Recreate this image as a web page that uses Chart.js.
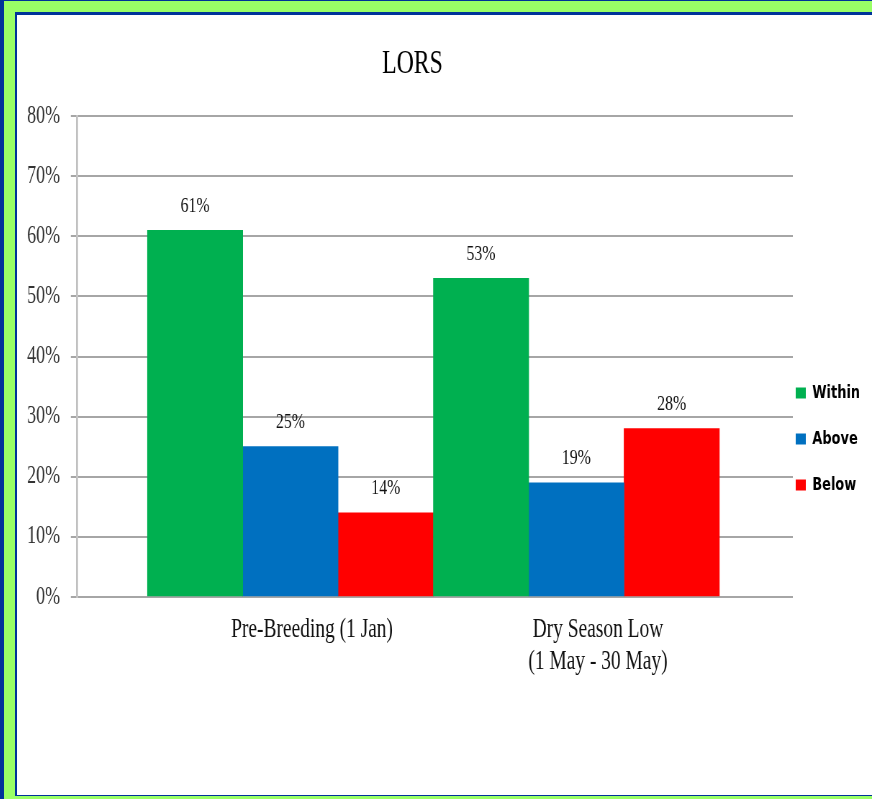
<!DOCTYPE html>
<html><head><meta charset="utf-8">
<script src="https://cdn.jsdelivr.net/npm/chart.js@4.4.1/dist/chart.umd.min.js"></script>
<style>
html,body{margin:0;padding:0;background:#fff;overflow:hidden;}
body{width:100%;height:799px;}
.s{position:absolute;}
.bl{background:#003399;}
.gr{background:#99ff66;}
#c{position:absolute;left:17px;top:15px;}
</style></head>
<body>
<div class="s bl" style="left:0;top:0;width:2000px;height:1px"></div>
<div class="s bl" style="left:0;top:0;width:4px;height:799px"></div>
<div class="s gr" style="left:4px;top:1px;width:2000px;height:11px"></div>
<div class="s gr" style="left:4px;top:1px;width:11px;height:798px"></div>
<div class="s gr" style="left:4px;top:796px;width:2000px;height:3px"></div>
<div class="s bl" style="left:15px;top:12px;width:2000px;height:3px"></div>
<div class="s bl" style="left:15px;top:12px;width:2px;height:784px"></div>
<div class="s bl" style="left:15px;top:795px;width:2000px;height:1px"></div>
<canvas id="c" width="1188" height="780" style="width:855px;height:780px"></canvas>
<script>
const chartTitle = 'LORS';
const categories = [['Pre-Breeding (1 Jan)'], ['Dry Season Low', '(1 May - 30 May)']];
const seriesNames = ['Within', 'Above', 'Below'];
const withinValues = [0.61, 0.53];
const aboveValues = [0.25, 0.19];
const belowValues = [0.14, 0.28];
const seriesColors = ['#00b050', '#0070c0', '#ff0000'];
const yTickLabels = ['0%', '10%', '20%', '30%', '40%', '50%', '60%', '70%', '80%'];

const serif = "'Liberation Serif', 'Times New Roman', serif";
const toPoints = vals => vals.map((v, i) => ({x: i + 1, y: v}));
const seriesValues = [withinValues, aboveValues, belowValues];

const datasets = seriesNames.map((name, k) => ({
  label: name,
  data: toPoints(seriesValues[k]),
  backgroundColor: seriesColors[k],
  borderWidth: 0,
  categoryPercentage: 1,
  barPercentage: 1
}));

const valueLabels = {
  id: 'valueLabels',
  afterDatasetsDraw(chart) {
    const ctx = chart.ctx;
    ctx.save();
    ctx.font = '22px ' + serif;
    ctx.fillStyle = '#111';
    ctx.textAlign = 'center';
    ctx.textBaseline = 'alphabetic';
    chart.data.datasets.forEach((ds, di) => {
      const meta = chart.getDatasetMeta(di);
      meta.data.forEach((bar, i) => {
        ctx.fillText(Math.round(ds.data[i].y * 100) + '%', bar.x, bar.y - 18.5);
      });
    });
    ctx.restore();
  }
};

const titleDraw = {
  id: 'titleDraw',
  afterDraw(chart) {
    const ctx = chart.ctx;
    const a = chart.chartArea;
    ctx.save();
    ctx.font = '33px ' + serif;
    ctx.fillStyle = '#000';
    ctx.textAlign = 'center';
    ctx.textBaseline = 'alphabetic';
    ctx.fillText(chartTitle, a.left + (a.right - a.left) * 0.4686, a.top - 42.7);
    ctx.restore();
  }
};

const chart = new Chart(document.getElementById('c'), {
  type: 'bar',
  data: {datasets},
  plugins: [valueLabels, titleDraw],
  options: {
    responsive: false,
    animation: false,
    devicePixelRatio: 1,
    layout: {padding: {top: 101, left: 0, right: 0, bottom: 0}},
    scales: {
      x: {
        type: 'linear',
        min: 0.2535,
        max: 2.757,
        offset: false,
        grid: {display: false, drawTicks: false, offset: false},
        border: {display: false},
        afterBuildTicks(scale) { scale.ticks = categories.map((c, i) => ({value: i + 1})); },
        afterFit(scale) { scale.height = 198; },
        ticks: {
          autoSkip: false, maxRotation: 0, minRotation: 0,
          padding: 16.5, labelOffset: 30,
          color: '#111',
          font: {family: serif, size: 27, lineHeight: 1.2},
          callback: (v, i) => categories[i]
        }
      },
      y: {
        min: 0, max: 0.8,
        afterFit(scale) { scale.width = 83.3; },
        grid: {color: '#a6a6a6', lineWidth: 2, tickLength: 8.5, drawTicks: true, tickColor: '#a6a6a6'},
        border: {display: true, color: '#c0c0c0', width: 2.8},
        ticks: {
          stepSize: 0.1, padding: 15, color: '#333',
          font: {family: serif, size: 25},
          callback: (v, i) => yTickLabels[i]
        }
      }
    },
    plugins: {
      title: {display: false},
      tooltip: {enabled: false},
      legend: {
        position: 'right',
        align: 'start',
        title: {display: true, text: ' ', font: {size: 12, lineHeight: 1}, padding: {top: 252, bottom: 0}},
        labels: {
          boxWidth: 14, boxHeight: 11, padding: 4, color: '#000',
          font: {family: "'DejaVu Sans', sans-serif", size: 18, weight: 'bold', lineHeight: 1.1667},
          generateLabels(ch) {
            const items = Chart.defaults.plugins.legend.labels.generateLabels(ch);
            items.forEach(it => { it.text = [it.text, '']; it.lineWidth = 0; });
            return items;
          }
        }
      }
    }
  }
});
const legendFit = chart.legend.fit;
chart.legend.fit = function() { legendFit.call(this); this.width = 110; };
chart.update();
</script>
</body></html>
